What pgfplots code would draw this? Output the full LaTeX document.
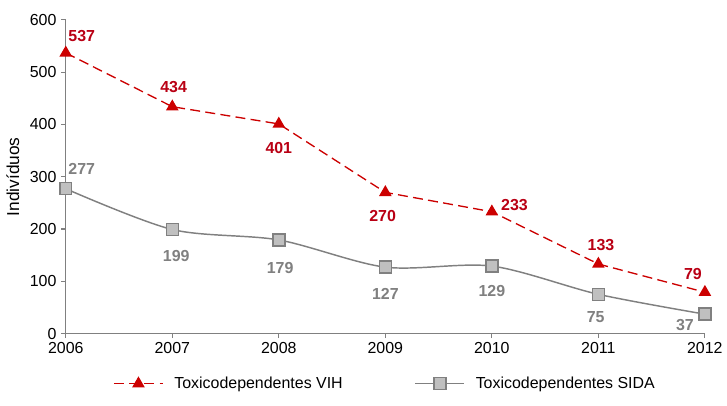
\documentclass[border=0pt]{standalone}
\usepackage{pgfplots}
\pgfplotsset{compat=1.18}
\usepackage{fontspec}
\setmainfont{Liberation Sans}
\definecolor{vihred}{RGB}{204,0,0}
\definecolor{vihlab}{RGB}{185,0,20}
\definecolor{sidagray}{RGB}{128,128,128}
\definecolor{sidafill}{RGB}{192,192,192}
\begin{document}
\begin{tikzpicture}
\begin{axis}[
  scale only axis,
  width=481pt, height=236pt,
  xmin=2006, xmax=2012, ymin=0, ymax=600,
  xtick={2006,...,2012}, ytick={0,100,...,600},
  axis x line*=bottom, axis y line*=left,
  axis line style={sidagray, line width=1pt},
  tick style={sidagray, line width=0.8pt},
  tick align=outside, major tick length=3.5pt,
  x tick label style={/pgf/number format/1000 sep={}},
  /pgf/number format/assume math mode=true,
  ticklabel style={font=\fontsize{12}{14}\selectfont},
  ylabel={Indivíduos}, ylabel style={font=\fontsize{13}{15}\selectfont, yshift=1pt},
  clip=false,
  legend columns=2,
  legend style={at={(0.5,-0.16)}, anchor=center, draw=none,
    font=\fontsize{12}{14}\selectfont,
    /tikz/every odd column/.append style={column sep=6pt},
    /tikz/every even column/.append style={column sep=52pt}},
  legend image code/.code={
    \draw[#1] (0pt,0pt) -- (37pt,0pt);
    \draw[#1, solid, only marks] plot coordinates {(18.5pt,0pt)};
  },
]
\addplot[vihred, line width=1pt, dash pattern=on 7.5pt off 4pt,
  mark=triangle*, mark size=4.5pt, mark options={solid, fill=vihred}]
  coordinates {(2006,537) (2007,434) (2008,401) (2009,270) (2010,233) (2011,133) (2012,79)};
\addlegendentry{Toxicodependentes VIH}
\addplot[sidagray, line width=1.1pt, smooth, tension=0.5,
  mark=square*, mark size=4.5pt, mark options={fill=sidafill, draw=sidagray}]
  coordinates {(2006,277) (2007,199) (2008,179) (2009,127) (2010,129) (2011,75) (2012,37)};
\addlegendentry{Toxicodependentes SIDA}

\begin{scope}[font=\fontsize{12}{14}\selectfont\bfseries]
\node[vihlab] at (axis cs:2006,537) [xshift=12pt, yshift=13pt] {537};
\node[vihlab] at (axis cs:2007,434) [xshift=1pt, yshift=15pt] {434};
\node[vihlab] at (axis cs:2008,401) [yshift=-18pt] {401};
\node[vihlab] at (axis cs:2009,270) [xshift=-2pt, yshift=-18pt] {270};
\node[vihlab] at (axis cs:2010,233) [xshift=17pt, yshift=5pt] {233};
\node[vihlab] at (axis cs:2011,133) [xshift=2pt, yshift=14pt] {133};
\node[vihlab] at (axis cs:2012,79) [xshift=-9pt, yshift=14pt] {79};
\node[sidagray] at (axis cs:2006,277) [xshift=12pt, yshift=15pt] {277};
\node[sidagray] at (axis cs:2007,199) [xshift=3pt, yshift=-20pt] {199};
\node[sidagray] at (axis cs:2008,179) [xshift=1pt, yshift=-21pt] {179};
\node[sidagray] at (axis cs:2009,127) [yshift=-20pt] {127};
\node[sidagray] at (axis cs:2010,129) [yshift=-19pt] {129};
\node[sidagray] at (axis cs:2011,75) [xshift=-2pt, yshift=-17pt] {75};
\node[sidagray] at (axis cs:2012,37) [xshift=-15pt, yshift=-8pt] {37};
\end{scope}
\end{axis}
\useasboundingbox ([xshift=-49.5pt, yshift=-54pt]current axis.south west) rectangle ([xshift=14.25pt, yshift=15pt]current axis.north east);
\end{tikzpicture}
\end{document}
